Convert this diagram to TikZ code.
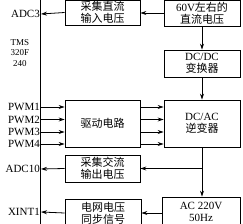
\documentclass[tikz,border=0pt]{standalone}
\usepackage{fontspec}
\setmainfont{Liberation Serif}
\newfontfamily\cjk{Noto Sans CJK SC}
\usetikzlibrary{arrows.meta,positioning,calc}

\begin{document}
\begin{tikzpicture}[
  x=1pt, y=-1pt,
  >={Stealth[length=6pt,width=4pt]},
  every node/.style={font=\fontsize{11}{12}\selectfont},
  box/.style={draw, line width=0.8pt, align=center, inner sep=0pt,
              minimum width=75pt},
  pin/.style={anchor=east, inner sep=1pt},
  link/.style={->, line width=0.8pt},
]
\useasboundingbox (0,0) rectangle (243,224);

% controller
\node[draw, line width=0.8pt, minimum width=44pt, minimum height=228pt,
      anchor=north east, inner sep=0pt] (mcu) at (41,-2) {};
\node[font=\fontsize{9}{10.5}\selectfont, align=center] (tms) at (20,53) {TMS\\320F\\240};
\node[pin] (adc3) at (41,14) {ADC3};
\node[pin] (pwm1) at (41,107) {PWM1};
\node[pin] (pwm2) at (41,119.5) {PWM2};
\node[pin] (pwm3) at (41,132) {PWM3};
\node[pin] (pwm4) at (41,144) {PWM4};
\node[pin] (adc10) at (41,169) {ADC10};
\node[pin] (xint1) at (41,212) {XINT1};

% boxes
\node[box, minimum height=25pt] (sdc) at (102.5,12.5) {\cjk 采集直流\\\cjk 输入电压};
\node[box, minimum width=76pt, minimum height=26pt] (src) at (202,13) {60V{\cjk 左右的}\\\cjk 直流电压};
\node[box, minimum width=76pt, minimum height=27pt] (dcdc) at (202,63.5) {DC/DC\\\cjk 变换器};
\node[box, minimum width=76pt, minimum height=47pt] (dcac) at (202,123.5) {DC/AC\\\cjk 逆变器};
\node[box, minimum height=47pt] (drv) at (102.5,123.5) {\cjk 驱动电路};
\node[box, minimum height=27pt] (sac) at (102.5,168.5) {\cjk 采集交流\\\cjk 输出电压};
\node[box, minimum width=76pt, minimum height=28pt] (grid) at (103,213) {\cjk 电网电压\\\cjk 同步信号};
\node[box, minimum width=78pt, minimum height=30pt] (ac) at (201,212) {AC 220V\\50Hz};

% connections
\draw[link] (src.west) -- (sdc.east |- src.west);
\draw[link] (sdc.west) -- (mcu.east |- adc3);
\draw[link] (src.south) -- (dcdc.north);
\draw[link] (dcdc.south) -- (dcac.north);
\draw[link] (dcac.south) -- (dcac.south |- ac.north);
\coordinate (tap) at (dcac.south |- sac.east);
\draw[link] (tap) -- (sac.east);
\draw[link] (sac.west) -- (mcu.east |- adc10);
\draw[link] (ac.west |- grid.east) -- (grid.east);
\draw[link] (grid.west) -- (mcu.east |- xint1);
\foreach \i in {1,...,4} {
  \draw[link] (mcu.east |- pwm\i) -- (drv.west |- pwm\i);
  \draw[link] (drv.east |- pwm\i) -- (dcac.west |- pwm\i);
}
\end{tikzpicture}
\end{document}
